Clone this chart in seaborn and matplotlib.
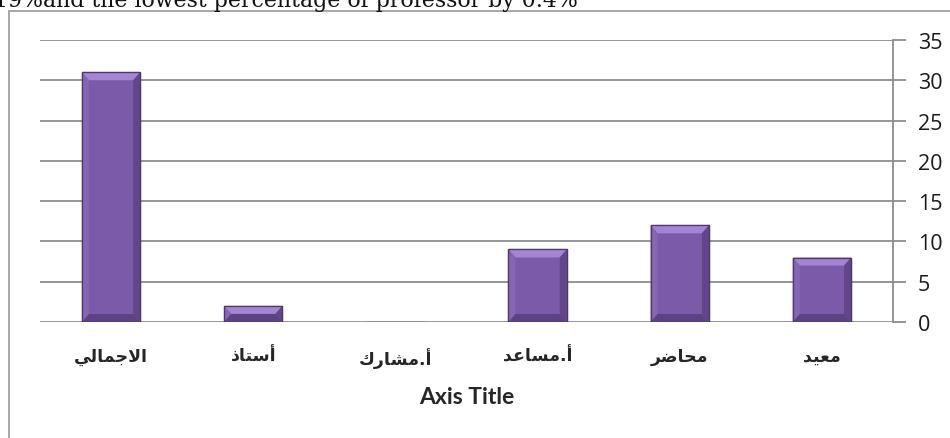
import pandas as pd
import seaborn as sns
import matplotlib.pyplot as plt
from matplotlib.patches import Rectangle, Polygon

# data (left to right as drawn)
categories = ["الاجمالي", "أستاذ", "أ.مشارك", "أ.مساعد", "محاضر", "معيد"]
counts = [31, 2, 0, 9, 12, 8]
y_ticks = [0, 5, 10, 15, 20, 25, 30, 35]
top_note = "19%and the lowest percentage of professor by 0.4%"

# matplotlib has no Arabic shaping, so build presentation forms by hand
# (isolated, final, initial, medial); letters with 2 forms don't join forward
FORMS = {
    "ا": ("\uFE8D", "\uFE8E"), "أ": ("\uFE83", "\uFE84"),
    "د": ("\uFEA9", "\uFEAA"), "ذ": ("\uFEAB", "\uFEAC"),
    "ر": ("\uFEAD", "\uFEAE"),
    "ت": ("\uFE95", "\uFE96", "\uFE97", "\uFE98"),
    "ج": ("\uFE9D", "\uFE9E", "\uFE9F", "\uFEA0"),
    "ح": ("\uFEA1", "\uFEA2", "\uFEA3", "\uFEA4"),
    "س": ("\uFEB1", "\uFEB2", "\uFEB3", "\uFEB4"),
    "ش": ("\uFEB5", "\uFEB6", "\uFEB7", "\uFEB8"),
    "ض": ("\uFEBD", "\uFEBE", "\uFEBF", "\uFEC0"),
    "ع": ("\uFEC9", "\uFECA", "\uFECB", "\uFECC"),
    "ك": ("\uFED9", "\uFEDA", "\uFEDB", "\uFEDC"),
    "ل": ("\uFEDD", "\uFEDE", "\uFEDF", "\uFEE0"),
    "م": ("\uFEE1", "\uFEE2", "\uFEE3", "\uFEE4"),
    "ي": ("\uFEF1", "\uFEF2", "\uFEF3", "\uFEF4"),
}
LAM_ALEF = {"ا": ("\uFEFB", "\uFEFC"), "أ": ("\uFEF7", "\uFEF8")}


def shape(word):
    out = []
    i = 0
    while i < len(word):
        ch = word[i]
        prev = word[i - 1] if i > 0 else ""
        joins_prev = prev in FORMS and len(FORMS[prev]) == 4
        if ch not in FORMS:
            out.append(ch)
            i += 1
            continue
        nxt = word[i + 1] if i + 1 < len(word) else ""
        if ch == "ل" and nxt in LAM_ALEF:
            out.append(LAM_ALEF[nxt][1 if joins_prev else 0])
            i += 2
            continue
        f = FORMS[ch]
        joins_next = len(f) == 4 and nxt in FORMS
        if joins_prev and joins_next:
            out.append(f[3])
        elif joins_next:
            out.append(f[2])
        elif joins_prev:
            out.append(f[1])
        else:
            out.append(f[0])
        i += 1
    return "".join(reversed(out))


df = pd.DataFrame({"cat": [shape(c) for c in categories], "n": counts})

sns.set_style("white")
plt.rcParams["font.family"] = ["DejaVu Sans"]

fig = plt.figure(figsize=(9.5, 4.39), dpi=100)
ax = fig.add_axes([40 / 950, 116 / 439, 853 / 950, 282 / 439])

grey = "#8c8c8c"
face = "#7b5ba9"
sns.barplot(data=df, x="cat", y="n", color=face, saturation=1, width=0.41,
            edgecolor="#4c366b", linewidth=0.9, ax=ax, zorder=3)

ax.set_xlim(-0.5, 5.5)
ax.set_ylim(0, 35)

# bevel look: ~8px chamfer on each bar
px_x = (5.5 + 0.5) / ax.bbox.width
px_y = 35 / ax.bbox.height
for bar in list(ax.patches):
    h = bar.get_height()
    if h <= 0:
        continue
    x0, w = bar.get_x(), bar.get_width()
    x1 = x0 + w
    bx = min(7 * px_x, w / 2)
    by = min(8 * px_y, h / 2)
    sides = [
        ([(x0, h), (x1, h), (x1 - bx, h - by), (x0 + bx, h - by)], "#a485d2"),
        ([(x0, 0), (x0, h), (x0 + bx, h - by), (x0 + bx, by)], "#8566b4"),
        ([(x1, 0), (x1, h), (x1 - bx, h - by), (x1 - bx, by)], "#614689"),
        ([(x0, 0), (x1, 0), (x1 - bx, by), (x0 + bx, by)], "#5d4283"),
    ]
    for pts, c in sides:
        ax.add_patch(Polygon(pts, closed=True, facecolor=c, lw=0, zorder=3.5))
    ax.add_patch(Rectangle((x0, 0), w, h, fill=False, edgecolor="#4c366b",
                           lw=0.9, zorder=3.6))

ax.set_yticks(y_ticks)
ax.yaxis.tick_right()
ax.yaxis.grid(True, color=grey, lw=1.3, zorder=0)
ax.set_axisbelow(True)
for s in ["left", "top", "bottom"]:
    ax.spines[s].set_visible(False)
ax.spines["right"].set_color(grey)
ax.spines["right"].set_linewidth(1.3)
ax.tick_params(axis="y", length=9, width=1.3, color=grey, pad=9,
               labelsize=15.5, labelcolor="#1a1a1a")
for lab in ax.get_yticklabels():
    lab.set_family(["Open Sans", "DejaVu Sans"])
ax.tick_params(axis="x", length=0, pad=18, labelsize=12.5)
for lab in ax.get_xticklabels():
    lab.set_fontweight("bold")

ax.set_ylabel("")
ax.set_xlabel("Axis Title", fontsize=16.5, fontweight="bold",
              family=["Lato", "DejaVu Sans"], labelpad=13)

# chart frame and the cut-off caption above it
fig.patches.append(Rectangle((9 / 950, -0.1), 1.0, (439 - 12) / 439 + 0.1,
                             transform=fig.transFigure, fill=False,
                             edgecolor="#a0a0a0", lw=1.3))
fig.text(-6 / 950, 1 - 7.5 / 439, top_note, family=["DejaVu Serif"],
         fontsize=15.8, va="baseline", ha="left", color="#111111")

fig.savefig("out.png", dpi=100)
